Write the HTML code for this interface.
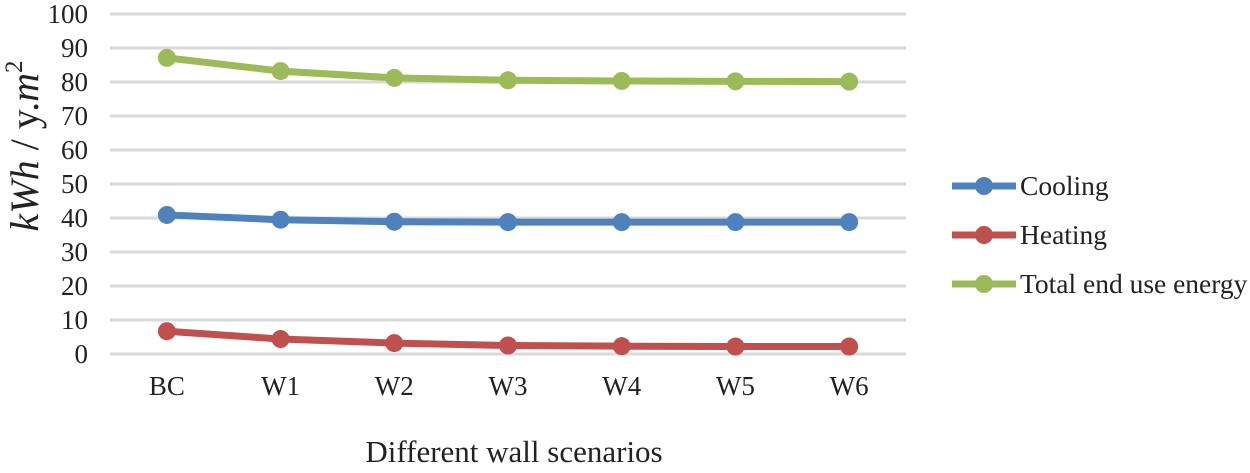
<!DOCTYPE html>
<html><head><meta charset="utf-8"><style>
body{margin:0;background:#fff;width:1250px;height:468px;overflow:hidden}
svg text{font-family:"Liberation Serif",serif;fill:#222}
</style></head><body>
<svg id="c" width="1250" height="468"></svg>
<script>
const categories=["BC","W1","W2","W3","W4","W5","W6"];
const cooling=[40.9,39.5,38.9,38.8,38.8,38.8,38.8];
const heating=[6.7,4.4,3.2,2.5,2.3,2.2,2.2];
const total=[87.1,83.2,81.2,80.5,80.3,80.2,80.1];
const yTicks=[0,10,20,30,40,50,60,70,80,90,100];
const seriesNames=["Cooling","Heating","Total end use energy"];
const colors=["#4f81bd","#c0504d","#9bbb59"];
const NS="http://www.w3.org/2000/svg";
const svg=document.getElementById('c');
const x0=110,x1=906,y0=354,y1=14;
const xs=i=>x0+(x1-x0)/categories.length*(i+0.5);
const ys=v=>y0-(v/100)*(y0-y1);
function mk(t,a,p){const e=document.createElementNS(NS,t);for(const k in a)e.setAttribute(k,a[k]);(p||svg).appendChild(e);return e;}
yTicks.forEach(v=>{
 const l=mk('line',{x1:x0,x2:x1,y1:ys(v),y2:ys(v),stroke:'#d9d9d9','stroke-width':3});
 
 
 const t=mk('text',{x:88,y:ys(v)+9,'text-anchor':'end','font-size':27});
 t.textContent=v;
 
 
});
categories.forEach((c,i)=>{
 const t=mk('text',{x:xs(i),y:395,'text-anchor':'middle','font-size':27});
 t.textContent=c;
 
 
});
[cooling,heating,total].forEach((s,k)=>{
 const g=mk('g',{});
 
 
 mk('polyline',{points:s.map((v,i)=>xs(i)+','+ys(v)).join(' '),fill:'none',stroke:colors[k],'stroke-width':7,'stroke-linejoin':'round'},g);
 s.forEach((v,i)=>{
  const c=mk('circle',{cx:xs(i),cy:ys(v),r:9,fill:colors[k]},g);
  
  
 });
 const ly=186+k*49;
 const lg=mk('g',{});
 
 
 mk('line',{x1:952,x2:1016,y1:ly,y2:ly,stroke:colors[k],'stroke-width':7},lg);
 mk('circle',{cx:984,cy:ly,r:9,fill:colors[k]},lg);
 const t=mk('text',{x:1020,y:ly+9,'font-size':27.5},lg);
 t.textContent=seriesNames[k];
});
const xt=mk('text',{x:514,y:462,'text-anchor':'middle','font-size':31});
xt.textContent="Different wall scenarios";


const yt=mk('text',{transform:'translate(38,146) rotate(-90)','text-anchor':'middle','font-size':40});
yt.innerHTML='<tspan font-style="italic">kWh</tspan> / y.<tspan font-style="italic">m</tspan><tspan font-size="25" dy="-16">2</tspan>';


</script>
</body></html>
